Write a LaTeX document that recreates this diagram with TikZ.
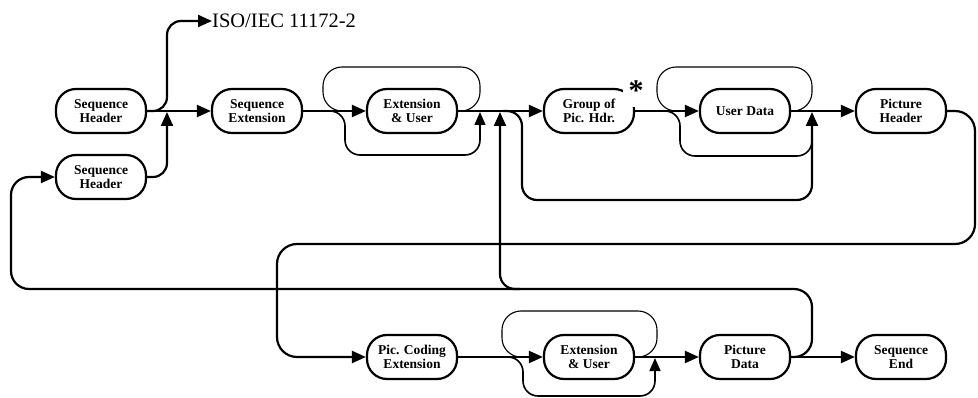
\documentclass[tikz,border=0pt]{standalone}
\usepackage{fontspec}
\setmainfont{Liberation Serif}
\usetikzlibrary{arrows.meta}
\begin{document}
\begin{tikzpicture}[x=1pt,y=-1pt,
  blk/.style={draw,line width=2.2pt,rounded corners=20pt,minimum width=90pt,minimum height=44pt,
    inner sep=0pt,align=center,font=\fontsize{13.5}{14}\selectfont\bfseries},
  mainln/.style={line width=2.2pt},
  arr/.style={mainln,-{Triangle[length=14pt,width=12pt]}},
  uploop/.style={line width=1.1pt,rounded corners=19pt},
  lowloop/.style={line width=1.6pt,rounded corners=15pt},
  lowarr/.style={lowloop,-{Triangle[length=13pt,width=11pt]}},
]
\useasboundingbox (0,0) rectangle (978,398);

% nodes
\node[blk] (sh1) at (101,111) {Sequence\\Header};
\node[blk] (sh2) at (101,177) {Sequence\\Header};
\node[blk] (se) at (257,111) {Sequence\\Extension};
\node[blk] (eu1) at (412,111) {Extension\\\& User};
\node[blk] (gp) at (589,111) {Group of\\Pic. Hdr.};
\node[blk] (ud) at (745,111) {User Data};
\node[blk] (ph) at (901,111) {Picture\\Header};
\node[blk] (pce) at (412,357) {Pic. Coding\\Extension};
\node[blk] (eu2) at (589,357) {Extension\\\& User};
\node[blk] (pd) at (745,357) {Picture\\Data};
\node[blk] (send) at (901,357) {Sequence\\End};

\node[anchor=west,inner sep=0pt,font=\fontsize{20.5}{24}\selectfont] (iso) at (212,21) {ISO/IEC 11172-2};

% junction coordinates
\coordinate (j1) at (167,112);
\coordinate (j2) at (480,112);
\coordinate (j3) at (500,112);
\coordinate (j4) at (812,112);
\coordinate (j5) at (655,358);
\coordinate (l1a) at (458,111);
\coordinate (l1b) at (345,111);
\coordinate (l1c) at (328,111);
\coordinate (l2a) at (792,111);
\coordinate (l2b) at (682,111);
\coordinate (l2c) at (662,111);
\coordinate (l2d) at (812,138);
\coordinate (l3a) at (637,357);
\coordinate (l3b) at (524,357);
\coordinate (l3c) at (506,357);
\coordinate (gb) at (503,111);
\coordinate (bk) at (520,289);

% top row
\draw[arr,rounded corners=14pt] (sh1.east) -- (167,111) -- (167,21) -- (iso.west);
\draw[arr] (sh1.east) -- (se.west);
\draw[arr,rounded corners=14pt] (sh2.east) -- (167,177) -- (j1);
\draw[arr] (se.east) -- (eu1.west);
\draw[uploop] (l1a) -- (480,111) -- (480,67) -- (323,67) -- (323,111) -- (l1b);
\draw[lowarr] (l1c) -- (345,111) -- (345,155) -- (480,155) -- (j2);
\draw[arr] (eu1.east) -- (gp.west);
\draw[arr,rounded corners=15pt] (bk) -- (500,289) -- (j3);
\draw[arr,rounded corners=15pt] (gb) -- (522,111) -- (522,200) -- (812,200) -- (j4);

\fill[white] (623,82) rectangle (647,107);
\node[anchor=base,inner sep=0pt,font=\fontsize{30}{30}\selectfont\bfseries] (star) at (636,101) {*};

\draw[arr] (gp.east) -- (ud.west);
\draw[uploop] (l2a) -- (812,111) -- (812,67) -- (657,67) -- (657,111) -- (l2b);
\draw[lowloop] (l2c) -- (680,111) -- (680,156) -- (812,156) -- (l2d);
\draw[arr] (ud.east) -- (ph.west);
\draw[arr,rounded corners=20pt] (ph.east) -- (975,111) -- (975,244) -- (277,244) -- (277,357) -- (pce.west);

% bottom row
\draw[arr] (pce.east) -- (eu2.west);
\draw[uploop] (l3a) -- (657,357) -- (657,311) -- (502,311) -- (502,357) -- (l3c);
\draw[lowarr] (l3c) -- (523,357) -- (523,396) -- (655,396) -- (j5);
\draw[arr] (eu2.east) -- (pd.west);
\draw[arr] (pd.east) -- (send.west);
\draw[arr,rounded corners=18pt] (pd.east) -- (812,357) -- (812,289) -- (11,289) -- (11,177) -- (sh2.west);
\end{tikzpicture}
\end{document}
